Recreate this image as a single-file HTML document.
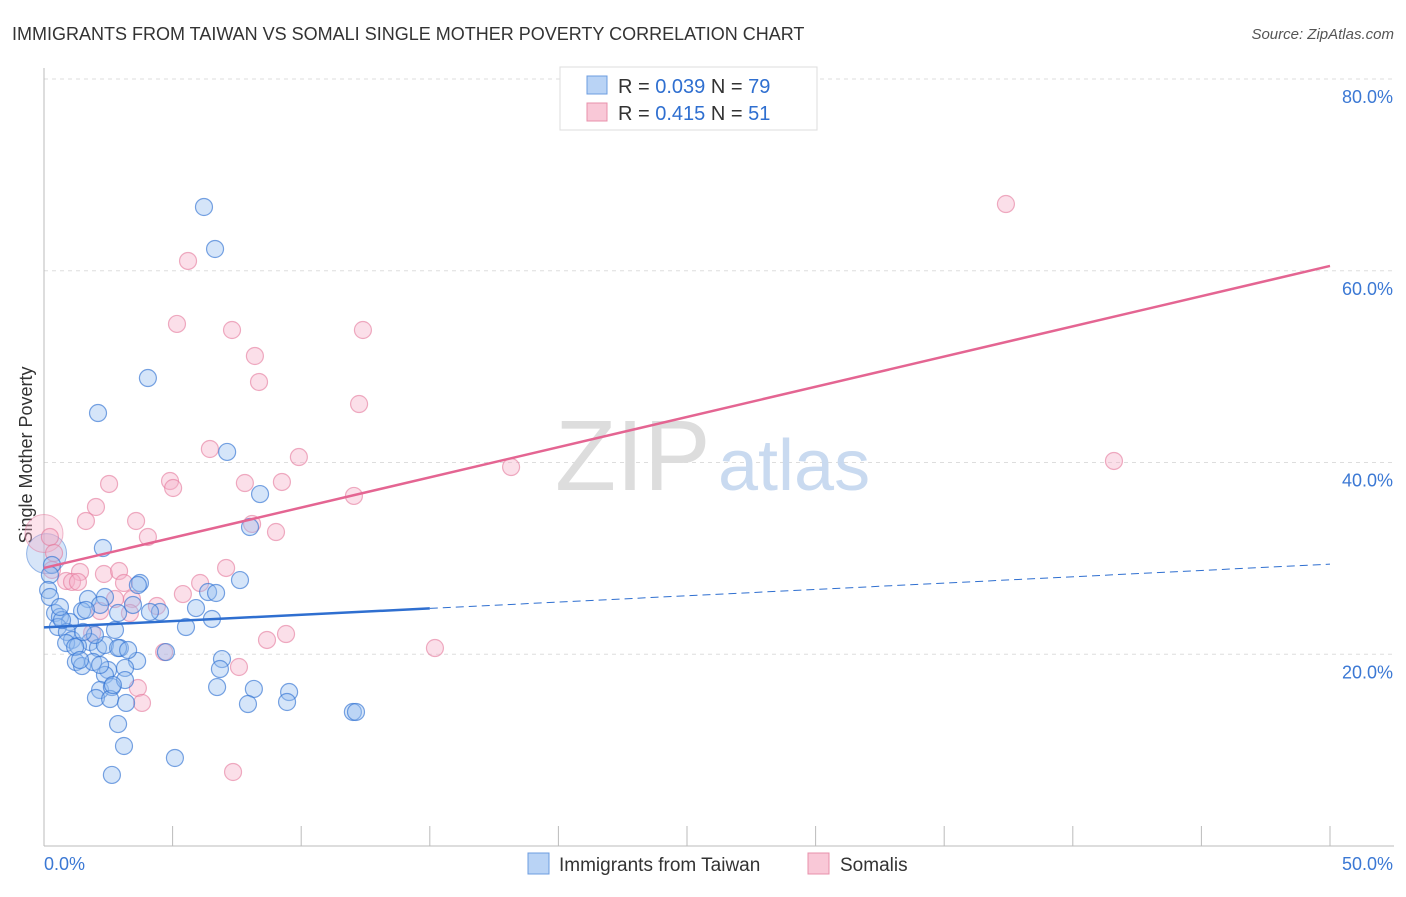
<!DOCTYPE html>
<html><head><meta charset="utf-8"><style>
body{margin:0;background:#fff;font-family:"Liberation Sans",sans-serif;}
svg text{font-family:"Liberation Sans",sans-serif;}
</style></head><body>
<svg width="1406" height="892" xmlns="http://www.w3.org/2000/svg">
<text x="12" y="40" font-size="18" fill="#333">IMMIGRANTS FROM TAIWAN VS SOMALI SINGLE MOTHER POVERTY CORRELATION CHART</text>
<text x="1394" y="39" font-size="15" fill="#555" font-style="italic" text-anchor="end">Source: ZipAtlas.com</text>
<g id="grid"></g>
<line x1="44" y1="68" x2="44" y2="846" stroke="#bbb"/>
<line x1="44" y1="846" x2="1394" y2="846" stroke="#bbb"/>
<text x="32" y="455" font-size="18" fill="#333" text-anchor="middle" transform="rotate(-90 32 455)">Single Mother Poverty</text>
<text x="555" y="490" font-size="100" fill="#ddd" font-family="Liberation Serif">ZIP</text>
<text x="718" y="490" font-size="72" fill="#c9daf0">atlas</text>
<g id="pts"></g>
<g id="lines"></g>
<g id="ticks"></g>
<g>
<rect x="560" y="67" width="257" height="63" fill="#fff" stroke="#ddd"/>
<rect x="587" y="76" width="20" height="18" fill="#b9d3f5" stroke="#6c9de0"/>
<rect x="587" y="103" width="20" height="18" fill="#f9c8d7" stroke="#e890ab"/>
<text x="618" y="93" font-size="20" fill="#333">R = <tspan fill="#2f6fd0">0.039</tspan>   N = <tspan fill="#2f6fd0">79</tspan></text>
<text x="618" y="120" font-size="20" fill="#333">R =  <tspan fill="#2f6fd0">0.415</tspan>   N =  <tspan fill="#2f6fd0">51</tspan></text>
</g>
<g>
<rect x="528" y="853" width="21" height="21" fill="#b9d3f5" stroke="#6c9de0"/>
<text x="559" y="871" font-size="19" fill="#333">Immigrants from Taiwan</text>
<rect x="808" y="853" width="21" height="21" fill="#f9c8d7" stroke="#e890ab"/>
<text x="840" y="871" font-size="19" fill="#333">Somalis</text>
</g>
</svg>
<script>
const xTicks=[0,5,10,15,20,25,30,35,40,45,50];
const yTicks=[20,40,60,80];
const yTickLabels=["20.0%","40.0%","60.0%","80.0%"];
const xEndLabels=["0.0%","50.0%"];
const bluePx=[[204,207],[215,249],[148,378],[98,413],[227,452],[260,494],[250,527],[103,548],[52,565],[50,575],[48,590],[140,583],[138,585],[88,599],[105,597],[82,611],[55,613],[60,617],[70,622],[58,627],[67,632],[72,640],[66,643],[90,642],[98,648],[78,646],[76,662],[82,666],[93,662],[105,645],[115,630],[118,613],[133,605],[160,612],[196,608],[208,592],[216,593],[186,627],[212,619],[120,648],[118,648],[137,661],[166,652],[125,668],[108,670],[105,675],[100,690],[112,687],[125,680],[96,698],[110,699],[126,703],[118,724],[124,746],[112,775],[175,758],[217,687],[222,659],[220,669],[254,689],[248,704],[289,692],[287,702],[353,712],[356,712],[50,597],[62,620],[75,647],[80,660],[95,635],[83,632],[100,605],[128,650],[113,685],[150,612],[240,580],[100,665],[86,610],[60,607]];
const pinkPx=[[1006,204],[188,261],[177,324],[232,330],[363,330],[255,356],[259,382],[359,404],[210,449],[299,457],[511,467],[1114,461],[109,484],[170,481],[173,488],[245,483],[282,482],[354,496],[96,507],[86,521],[136,521],[148,537],[252,524],[276,532],[50,537],[54,553],[80,572],[104,574],[119,571],[226,568],[66,581],[72,582],[78,582],[124,583],[200,583],[183,594],[132,599],[115,599],[100,611],[130,613],[157,606],[164,652],[267,640],[286,634],[435,648],[92,633],[239,667],[138,688],[142,703],[233,772],[52,570]];
// data values (x %, y %) derived from reading
const blueX=bluePx.map(p=>+((p[0]-44)/1286*50).toFixed(2));
const blueY=bluePx.map(p=>+((846-p[1])/767*80).toFixed(2));
const pinkX=pinkPx.map(p=>+((p[0]-44)/1286*50).toFixed(2));
const pinkY=pinkPx.map(p=>+((846-p[1])/767*80).toFixed(2));
const blueTrend=[22.8,29.4];
const pinkTrend=[29.0,60.5];
const blueSolidEnd=15;
function sx(v){return 44+v/50*1286;}
function sy(v){return 846-v/80*767;}
const NS="http://www.w3.org/2000/svg";
function mk(t,a,parent){const e=document.createElementNS(NS,t);for(const k in a)e.setAttribute(k,a[k]);document.getElementById(parent).appendChild(e);return e;}
yTicks.forEach((t,i)=>{
 const g=mk('line',{x1:44,x2:1394,y1:sy(t),y2:sy(t),stroke:'#ddd','stroke-dasharray':'4,4'},'grid');
 
 
 const l=mk('text',{x:1393,y:sy(t)+24,'font-size':18,fill:'#3b78d4','text-anchor':'end'},'ticks');
 l.textContent=yTickLabels[i];
 
 
});
xTicks.forEach(t=>{
 const k=mk('line',{x1:sx(t),x2:sx(t),y1:826,y2:846,stroke:'#bbb'},'ticks');
 
 
});
const xl0=mk('text',{x:44,y:870,'font-size':18,fill:'#3b78d4'},'ticks');xl0.textContent=xEndLabels[0];


const xl1=mk('text',{x:1393,y:870,'font-size':18,fill:'#3b78d4','text-anchor':'end'},'ticks');xl1.textContent=xEndLabels[1];


// big circles
const b1=mk('circle',{cx:sx(0.1),cy:sy(30.5),r:20,fill:'rgba(140,180,235,0.35)',stroke:'rgba(60,120,210,0.5)'},'pts');


const b2=mk('circle',{cx:sx(0),cy:sy(32.6),r:19,fill:'rgba(245,175,200,0.35)',stroke:'rgba(225,120,155,0.5)'},'pts');


pinkX.forEach((x,i)=>{
 const c=mk('circle',{cx:sx(x),cy:sy(pinkY[i]),r:8.5,fill:'rgba(245,175,200,0.4)',stroke:'rgba(228,120,155,0.6)','stroke-width':1.2},'pts');
 
 
});
blueX.forEach((x,i)=>{
 const c=mk('circle',{cx:sx(x),cy:sy(blueY[i]),r:8.5,fill:'rgba(150,190,240,0.4)',stroke:'rgba(50,115,210,0.65)','stroke-width':1.2},'pts');
 
 
});
const bm=blueTrend[0]+(blueTrend[1]-blueTrend[0])*blueSolidEnd/50;
const l1=mk('line',{x1:sx(0),y1:sy(blueTrend[0]),x2:sx(blueSolidEnd),y2:sy(bm),stroke:'#2f6fd0','stroke-width':2.5},'lines');


const l2=mk('line',{x1:sx(blueSolidEnd),y1:sy(bm),x2:sx(50),y2:sy(blueTrend[1]),stroke:'#2f6fd0','stroke-width':1,'stroke-dasharray':'8,5'},'lines');


const l3=mk('line',{x1:sx(0),y1:sy(pinkTrend[0]),x2:sx(50),y2:sy(pinkTrend[1]),stroke:'#e46592','stroke-width':2.5},'lines');


</script>
</body></html>
